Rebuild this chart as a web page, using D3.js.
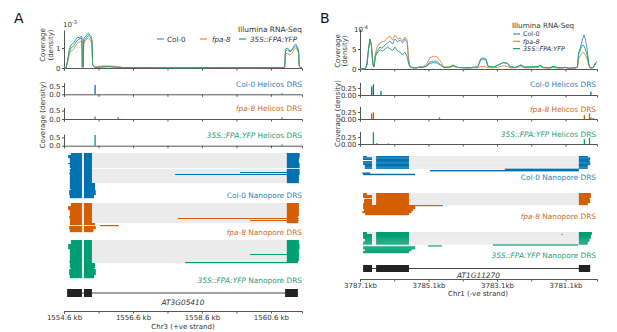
<!DOCTYPE html>
<html>
<head>
<meta charset="utf-8">
<script src="https://cdn.jsdelivr.net/npm/d3@7"></script>
<style>
  body { margin: 0; background: #fff; }
  svg { font-family: "DejaVu Sans", Verdana, sans-serif; }
</style>
</head>
<body>
<svg id="fig" width="617" height="332"></svg>
<script>
// =========================================
// FPA – AT3G05410 (A) / AT1G11270 (B)
// Illumina, Helicos DRS and Nanopore DRS tracks
// =========================================

const genotypes = ["Col-0", "fpa-8", "35S::FPA:YFP"];
const genotypeItalic = [false, true, true];

// =========================
// DATA – PANEL A (Chr3, +ve strand)
// =========================

const A_ticks = [1554.6, 1555.6, 1556.6, 1557.6, 1558.6, 1559.6, 1560.6];
const A_tickLabels = [1554.6, 1556.6, 1558.6, 1560.6];
const A_exons = [[1554.69, 1555.12], [1555.18, 1555.41], [1561.01, 1561.38]];

// Illumina coverage (x 10^-3)
const A_covPos = [1554.60, 1554.66, 1554.70, 1554.75, 1554.80, 1554.85, 1554.90, 1554.95, 1555.00, 1555.05,
  1555.10, 1555.12, 1555.13, 1555.16, 1555.17, 1555.20, 1555.24, 1555.28, 1555.31, 1555.34,
  1555.38, 1555.41, 1555.43, 1555.50, 1555.70, 1555.90, 1556.10, 1556.30, 1557.00, 1558.00,
  1559.00, 1560.00, 1560.95, 1561.00, 1561.02, 1561.08, 1561.15, 1561.22, 1561.28, 1561.32,
  1561.36, 1561.40, 1561.42, 1561.45, 1561.50];
const A_covCol0 = [0, 0, 0.3, 0.8, 1.0, 1.05, 1.15, 1.3, 1.4, 1.45, 1.5, 1.45, 0.05, 0.05, 1.3, 1.4, 1.5, 1.6, 1.65, 1.55,
  1.5, 1.3, 0.15, 0.03, 0.06, 0.08, 0.05, 0.02, 0.02, 0.01, 0.02, 0.02, 0.02, 0.05, 0.85, 0.9, 0.8, 0.9, 1.15, 1.2,
  1.05, 0.9, 0.1, 0.02, 0.02];
const A_covFpa8 = [0, 0, 0.25, 0.65, 0.85, 0.9, 1.0, 1.15, 1.25, 1.3, 1.35, 1.3, 0.05, 0.05, 1.2, 1.3, 1.4, 1.5, 1.5, 1.45,
  1.35, 1.2, 0.15, 0.05, 0.1, 0.1, 0.08, 0.03, 0.02, 0.02, 0.02, 0.01, 0.02, 0.05, 0.7, 0.75, 0.65, 0.75, 0.95, 1.0,
  0.9, 0.75, 0.1, 0.02, 0.02];
const A_covYfp = [0, 0, 0.35, 0.9, 1.15, 1.2, 1.3, 1.45, 1.55, 1.5, 1.6, 1.55, 0.05, 0.05, 1.45, 1.55, 1.6, 1.7, 1.75, 1.65,
  1.6, 1.4, 0.15, 0.03, 0.05, 0.06, 0.04, 0.02, 0.02, 0.01, 0.02, 0.02, 0.02, 0.05, 0.95, 1.0, 0.85, 0.95, 1.05, 1.1,
  1.0, 0.85, 0.1, 0.02, 0.02];

// Helicos DRS 3' ends [kb, density]
const A_helCol0 = [[1555.50, 0.56], [1560.92, 0.06]];
const A_helFpa8 = [[1555.50, 0.15], [1556.17, 0.12], [1560.92, 0.1]];
const A_helYfp = [[1555.50, 0.65], [1560.92, 0.08]];

// Nanopore DRS reads: n = number of reads, blocks = aligned segments (kb)
const A_npCol0 = [
  { n: 2, blocks: [[1554.80, 1555.12], [1555.18, 1555.41], [1561.06, 1561.43]] },
  { n: 3, blocks: [[1554.72, 1555.12], [1555.18, 1555.41], [1561.06, 1561.43]] },
  { n: 5, blocks: [[1554.77, 1555.12], [1555.18, 1555.41], [1561.06, 1561.41]] },
  { n: 1, blocks: [[1554.72, 1555.12], [1555.18, 1555.41], [1561.06, 1561.43]] },
  { n: 4, blocks: [[1554.77, 1555.12], [1555.18, 1555.41], [1561.06, 1561.43]] },
  { n: 1, blocks: [[1554.80, 1555.12], [1555.18, 1555.41]] },
  { n: 3, blocks: [[1554.77, 1555.12], [1555.18, 1555.41], [1561.06, 1561.43]] },
  { n: 1, blocks: [[1554.77, 1555.12], [1555.18, 1555.41], [1559.70, 1561.43]] },
  { n: 1, blocks: [[1554.75, 1555.12], [1555.18, 1555.41], [1561.06, 1561.43]] },
  { n: 1, blocks: [[1554.77, 1555.12], [1555.18, 1555.41], [1557.82, 1561.43]] },
  { n: 8, blocks: [[1554.77, 1555.12], [1555.18, 1555.41], [1561.06, 1561.41]] },
  { n: 6, blocks: [[1554.77, 1555.12], [1555.18, 1555.50]] },
  { n: 1, blocks: [[1554.80, 1555.12], [1555.18, 1555.50]] },
  { n: 5, blocks: [[1554.75, 1555.12], [1555.18, 1555.52]] },
  { n: 3, blocks: [[1554.77, 1555.12], [1555.18, 1555.47]] }
];
const A_npFpa8 = [
  { n: 3, blocks: [[1554.80, 1555.12], [1555.18, 1555.41], [1561.06, 1561.41]] },
  { n: 4, blocks: [[1554.72, 1555.12], [1555.18, 1555.41], [1561.06, 1561.41]] },
  { n: 6, blocks: [[1554.77, 1555.12], [1555.18, 1555.41], [1561.06, 1561.41]] },
  { n: 2, blocks: [[1554.75, 1555.12], [1555.18, 1555.41], [1561.06, 1561.38]] },
  { n: 1, blocks: [[1554.77, 1555.12], [1555.18, 1555.41], [1557.90, 1561.41]] },
  { n: 1, blocks: [[1554.77, 1555.12], [1555.18, 1555.41], [1561.06, 1561.38]] },
  { n: 1, blocks: [[1554.77, 1555.12], [1555.18, 1555.41], [1559.99, 1561.41]] },
  { n: 2, blocks: [[1554.77, 1555.12], [1555.18, 1555.41], [1561.06, 1561.38]] },
  { n: 2, blocks: [[1554.77, 1555.12], [1555.18, 1555.50]] },
  { n: 1, blocks: [[1555.64, 1556.19]] },
  { n: 3, blocks: [[1554.75, 1555.12], [1555.18, 1555.52]] },
  { n: 3, blocks: [[1554.77, 1555.12], [1555.18, 1555.45]] }
];
const A_npYfp = [
  { n: 4, blocks: [[1554.80, 1555.12], [1555.18, 1555.41], [1561.06, 1561.41]] },
  { n: 5, blocks: [[1554.72, 1555.12], [1555.18, 1555.41], [1561.06, 1561.43]] },
  { n: 5, blocks: [[1554.77, 1555.12], [1555.18, 1555.41], [1561.06, 1561.41]] },
  { n: 1, blocks: [[1554.77, 1555.12], [1555.18, 1555.41], [1559.99, 1561.41]] },
  { n: 6, blocks: [[1554.77, 1555.12], [1555.18, 1555.41], [1561.06, 1561.41]] },
  { n: 1, blocks: [[1554.75, 1555.12], [1555.18, 1555.41], [1561.06, 1561.38]] },
  { n: 1, blocks: [[1554.77, 1555.12], [1555.18, 1555.41], [1558.11, 1561.38]] },
  { n: 5, blocks: [[1554.77, 1555.12], [1555.18, 1555.50]] },
  { n: 1, blocks: [[1554.80, 1555.12], [1555.18, 1555.47]] },
  { n: 6, blocks: [[1554.75, 1555.12], [1555.18, 1555.52]] },
  { n: 3, blocks: [[1554.77, 1555.12], [1555.18, 1555.47]] }
];

// =========================
// DATA – PANEL B (Chr1, -ve strand)
// =========================

const B_ticks = [3787.1, 3786.1, 3785.1, 3784.1, 3783.1, 3782.1, 3781.1];
const B_tickLabels = [3787.1, 3785.1, 3783.1, 3781.1];
const B_exons = [[3787.01, 3786.75], [3786.63, 3785.67], [3780.71, 3780.38]];

// Illumina coverage (x 10^-4)
const B_covPos = [3787.10, 3786.95, 3786.90, 3786.85, 3786.81, 3786.77, 3786.72, 3786.69, 3786.65, 3786.60,
  3786.52, 3786.45, 3786.37, 3786.30, 3786.22, 3786.15, 3786.08, 3786.00, 3785.93, 3785.86,
  3785.79, 3785.72, 3785.68, 3785.64, 3785.55, 3785.45, 3785.35, 3785.28, 3785.15, 3785.06,
  3784.95, 3784.85, 3784.76, 3784.65, 3784.50, 3784.38, 3784.25, 3784.05, 3783.89, 3783.66,
  3783.58, 3783.51, 3783.42, 3783.36, 3783.20, 3783.05, 3782.92, 3782.80, 3782.72, 3782.57,
  3782.40, 3782.30, 3782.14, 3781.90, 3781.84, 3781.75, 3781.55, 3781.46, 3781.30, 3781.10,
  3781.00, 3780.82, 3780.75, 3780.72, 3780.66, 3780.60, 3780.56, 3780.52, 3780.47, 3780.42,
  3780.38, 3780.30, 3780.26, 3780.22, 3780.19];
const B_covCol0 = [0, 0.1, 1, 5, 7.5, 6, 1, 0.5, 3.5, 4.5,
  5.5, 5.2, 6, 6.5, 7, 6.2, 7.5, 6.8, 7.2, 6.5,
  7.5, 6.5, 2, 0.6, 0.3, 0.3, 0.5, 0.4, 0.8, 1.8,
  2.0, 1.9, 1.2, 0.4, 0.4, 0.8, 0.4, 0.3, 0.3, 0.5,
  2.2, 2.5, 2.2, 0.6, 0.5, 1.0, 1.6, 1.4, 0.6, 0.4,
  1.0, 0.5, 0.5, 0.6, 0.9, 0.4, 0.3, 0.6, 0.3, 0.4,
  0.2, 0.3, 0.5, 4, 5.5, 7.5, 8.5, 7.5, 5, 1.5,
  0.3, 0.3, 0.8, 1.6, 1.8];
const B_covFpa8 = [0, 0.1, 1, 5, 7.3, 6, 1, 0.5, 4, 5.5,
  6.5, 6.8, 7, 7.8, 8.2, 7.2, 8.5, 7.5, 7.8, 7,
  8, 7.2, 2.5, 0.6, 0.3, 0.3, 0.5, 0.5, 1.2, 2.8,
  3.2, 3.1, 2.0, 0.5, 0.4, 0.7, 0.4, 0.3, 0.3, 0.3,
  0.6, 0.7, 0.6, 0.3, 0.3, 0.5, 0.8, 0.7, 0.3, 0.3,
  0.6, 0.3, 0.3, 0.4, 0.6, 0.3, 0.2, 0.4, 0.2, 0.3,
  0.2, 0.2, 0.4, 2.5, 3.5, 4.2, 4.0, 3.5, 2.5, 1,
  0.3, 0.3, 0.7, 1.4, 1.6];
const B_covYfp = [0, 0.1, 1, 5, 7.5, 6.2, 1, 0.5, 3.2, 4,
  4.8, 4.5, 5, 5.5, 5, 4.6, 5.5, 4.5, 4.2, 3.5,
  4.2, 3, 1.2, 0.5, 0.3, 0.3, 0.5, 0.4, 0.7, 1.4,
  1.6, 1.5, 1.0, 0.4, 0.5, 1.0, 0.4, 0.3, 0.3, 0.6,
  2.5, 2.8, 2.5, 0.7, 0.5, 1.1, 1.6, 1.5, 0.6, 0.4,
  1.0, 0.5, 0.5, 0.6, 1.0, 0.4, 0.3, 0.7, 0.3, 0.4,
  0.2, 0.3, 0.5, 3.5, 5, 6, 5.8, 5, 3.5, 1.2,
  0.3, 0.3, 0.8, 1.5, 1.7];

const B_helCol0 = [[3786.76, 0.3], [3786.71, 0.38], [3786.49, 0.14], [3780.36, 0.12]];
const B_helFpa8 = [[3786.76, 0.2], [3786.71, 0.24], [3784.78, 0.06], [3780.55, 0.14], [3780.40, 0.2], [3780.36, 0.06], [3780.29, 0.04]];
const B_helYfp = [[3786.71, 0.42], [3786.61, 0.03], [3786.27, 0.02], [3780.55, 0.17], [3780.40, 0.22]];

const B_npCol0 = [
  { n: 1, blocks: [[3787.01, 3786.90], [3786.63, 3785.67], [3780.71, 3780.45]] },
  { n: 2, blocks: [[3787.01, 3786.75], [3786.63, 3785.67], [3780.71, 3780.38]] },
  { n: 1, blocks: [[3786.63, 3785.67], [3780.71, 3780.40]] },
  { n: 3, blocks: [[3787.01, 3786.75], [3786.63, 3785.67], [3780.71, 3780.38]] },
  { n: 3, blocks: [[3786.96, 3786.75], [3786.63, 3785.67], [3780.71, 3780.45]] },
  { n: 1, blocks: [[3782.87, 3780.71]] },
  { n: 1, blocks: [[3785.06, 3780.71]] },
  { n: 1, blocks: [] },
  { n: 1, blocks: [[3787.03, 3786.80]] },
  { n: 1, blocks: [[3787.01, 3785.49]] }
];
const B_npFpa8 = [
  { n: 2, blocks: [[3787.01, 3786.90], [3786.63, 3785.67], [3780.71, 3780.36]] },
  { n: 3, blocks: [[3787.01, 3786.75], [3786.63, 3785.67], [3780.71, 3780.36]] },
  { n: 1, blocks: [[3786.63, 3785.67], [3780.71, 3780.40]] },
  { n: 4, blocks: [[3786.98, 3786.75], [3786.63, 3785.67], [3780.71, 3780.38]] },
  { n: 2, blocks: [[3787.01, 3786.75], [3786.63, 3785.67], [3780.71, 3780.45]] },
  { n: 1, blocks: [[3787.01, 3784.68]] },
  { n: 3, blocks: [[3787.01, 3785.49]] },
  { n: 2, blocks: [[3786.98, 3785.55]] },
  { n: 2, blocks: [[3787.03, 3785.60]] },
  { n: 2, blocks: [[3786.95, 3785.67]] }
];
const B_npYfp = [
  { n: 2, blocks: [[3787.01, 3786.90], [3786.63, 3785.67], [3780.71, 3780.33]] },
  { n: 1, blocks: [[3787.01, 3786.75], [3786.63, 3785.67], [3781.22, 3781.18], [3780.71, 3780.33]] },
  { n: 4, blocks: [[3787.01, 3786.75], [3786.63, 3785.67], [3780.71, 3780.36]] },
  { n: 3, blocks: [[3786.96, 3786.75], [3786.63, 3785.67], [3780.71, 3780.40]] },
  { n: 3, blocks: [[3787.01, 3786.75], [3786.63, 3785.67], [3780.71, 3780.45]] },
  { n: 1, blocks: [[3783.22, 3780.73]] },
  { n: 1, blocks: [[3785.11, 3784.71]] },
  { n: 3, blocks: [[3787.01, 3785.49]] },
  { n: 2, blocks: [[3786.96, 3785.60]] },
  { n: 2, blocks: [[3787.01, 3785.67]] }
];


// =========================
// STYLE
// =========================

const colours = ["#0072b2", "#d55e00", "#009e73"];
const lineColours = ["#3c8fc4", "#e3893a", "#1aa07c"];
const textColours = ["#2f7fb4", "#d1691c", "#1f9c7a"];
const INTRON_FILL = "#ebebeb";
const AXIS_COL = "#555";
const TXT = "#333";

const svg = d3.select("#fig");


// =========================
// HELPERS
// =========================

function addText(x, y, parts, opts = {}) {
  const t = svg.append("text")
    .attr("x", x)
    .attr("y", y)
    .attr("font-size", opts.size || 7)
    .attr("fill", opts.color || TXT)
    .attr("text-anchor", opts.anchor || "start");
  if (opts.rotate) t.attr("transform", `rotate(-90, ${x}, ${y})`);
  parts.forEach(p => t.append("tspan").text(p[0]).attr("font-style", p[1] ? "italic" : null));
  return t;
}

function styleAxis(g) {
  g.attr("font-family", null).attr("font-size", 7);
  g.select(".domain").attr("stroke", AXIS_COL);
  g.selectAll(".tick line").attr("stroke", AXIS_COL);
  g.selectAll(".tick text").attr("fill", TXT);
}

function drawXAxis(x, y, ticks, labelled, fmt) {
  const axis = d3.axisBottom(x)
    .tickValues(ticks)
    .tickSize(2.5)
    .tickSizeOuter(2.5)
    .tickPadding(2)
    .tickFormat(d => labelled && labelled.includes(d) ? fmt(d) : "");
  const g = svg.append("g").attr("transform", `translate(0,${y})`).call(axis);
  styleAxis(g);
  return g;
}

function drawYAxis(xPos, y, ticks, fmt) {
  const g = svg.append("g")
    .attr("transform", `translate(${xPos},0)`)
    .call(d3.axisLeft(y).tickValues(ticks).tickSize(2).tickSizeOuter(0).tickPadding(1.5).tickFormat(fmt));
  styleAxis(g);
  return g;
}


// =========================
// ILLUMINA COVERAGE
// =========================

function drawIllumina(x, yBase, yTop, yMax, yTicks, ticks, pos, valueSets) {
  const y = d3.scaleLinear().domain([0, yMax]).range([yBase, yTop]);
  const line = d3.line().x(d => x(d[0])).y(d => y(d[1]));

  drawXAxis(x, yBase, ticks, null, null);
  drawYAxis(x.range()[0], y, yTicks, d3.format("d"));

  valueSets.forEach((vals, i) => {
    svg.append("path")
      .datum(pos.map((p, j) => [p, vals[j]]))
      .attr("d", line)
      .attr("fill", "none")
      .attr("stroke", lineColours[i])
      .attr("stroke-width", 1)
      .attr("stroke-opacity", 0.9);
  });
}

function drawExponent(x, y, exp) {
  const t = svg.append("text").attr("x", x).attr("y", y).attr("font-size", 7).attr("fill", TXT);
  t.append("tspan").text("10");
  t.append("tspan").text(exp).attr("font-size", 5).attr("dy", -3);
}


// =========================
// HELICOS DRS
// =========================

function drawHelicos(x, yBase, yMax, pxPerUnit, ticks, yTicks, fmt, bars, i, labelX, labelY) {
  const y = d3.scaleLinear().domain([0, yMax]).range([yBase, yBase - yMax * pxPerUnit]);

  svg.append("g").selectAll("rect")
    .data(bars)
    .enter()
    .append("rect")
    .attr("x", d => x(d[0]) - 0.6)
    .attr("width", 1.3)
    .attr("y", d => y(d[1]))
    .attr("height", d => yBase - y(d[1]))
    .attr("fill", colours[i]);

  drawXAxis(x, yBase, ticks, null, null);
  drawYAxis(x.range()[0], y, yTicks, fmt);

  addText(labelX, labelY, [[genotypes[i], genotypeItalic[i]], [" Helicos DRS", false]],
    { anchor: "end", color: textColours[i], size: 7.4 });
}


// =========================
// NANOPORE DRS
// =========================

function drawNanopore(x, reads, y0, y1, i, labelX, labelY) {
  const rows = [];
  reads.forEach(r => { for (let k = 0; k < r.n; k++) rows.push(r.blocks); });

  const y = d3.scaleBand().domain(d3.range(rows.length)).range([y0, y1]);
  const h = y.bandwidth();
  const g = svg.append("g");

  rows.forEach((blocks, r) => {
    const bs = blocks
      .map(b => [Math.min(x(b[0]), x(b[1])), Math.max(x(b[0]), x(b[1]))])
      .sort((a, b) => a[0] - b[0]);

    for (let j = 1; j < bs.length; j++) {
      g.append("rect")
        .attr("x", bs[j - 1][1]).attr("width", bs[j][0] - bs[j - 1][1])
        .attr("y", y(r)).attr("height", h + 0.2)
        .attr("fill", INTRON_FILL);
    }
    bs.forEach(b => {
      g.append("rect")
        .attr("x", b[0]).attr("width", Math.max(b[1] - b[0], 0.8))
        .attr("y", y(r)).attr("height", h + 0.2)
        .attr("fill", colours[i]);
    });
  });

  addText(labelX, labelY, [[genotypes[i], genotypeItalic[i]], [" Nanopore DRS", false]],
    { anchor: "end", color: textColours[i], size: 7.4 });
}


// =========================
// GENE MODEL
// =========================

function drawGene(x, yc, hh, exons, name, nameY) {
  const xs = exons.flat().map(x);
  svg.append("line")
    .attr("x1", d3.min(xs)).attr("x2", d3.max(xs))
    .attr("y1", yc).attr("y2", yc)
    .attr("stroke", "#444").attr("stroke-width", 1);

  svg.append("g").selectAll("rect")
    .data(exons)
    .enter()
    .append("rect")
    .attr("x", d => Math.min(x(d[0]), x(d[1])))
    .attr("width", d => Math.abs(x(d[1]) - x(d[0])))
    .attr("y", yc - hh)
    .attr("height", hh * 2)
    .attr("fill", "#222");

  const mid = (x.range()[0] + x.range()[1]) / 2;
  addText(mid, nameY, [[name, true]], { anchor: "middle", size: 7.4 });
}


// =========================
// PANEL A
// =========================

const xA = d3.scaleLinear().domain([1554.6, 1561.5]).range([64, 302]);

addText(14, 23, [["A", false]], { size: 14, color: "#111" });

drawIllumina(xA, 68, 30, 1.9, [0, 1], A_ticks, A_covPos, [A_covCol0, A_covFpa8, A_covYfp]);
drawExponent(63, 27, "-3");
addText(45, 45, [["Coverage", false]], { rotate: true, anchor: "middle" });
addText(52.5, 45, [["(density)", false]], { rotate: true, anchor: "middle" });

addText(302, 32, [["Illumina RNA-Seq", false]], { anchor: "end", size: 7.4 });
[[157, 167], [200, 212], [239, 250]].forEach((p, i) => {
  svg.append("line").attr("x1", p[0]).attr("x2", p[0] + 7).attr("y1", 39).attr("y2", 39)
    .attr("stroke", lineColours[i]).attr("stroke-width", 1.2);
  addText(p[1], 41.5, [[genotypes[i], genotypeItalic[i]]], { size: 7.2 });
});

drawHelicos(xA, 94.3, 0.7, 16.6, A_ticks, [0, 0.5], d3.format(".1f"), A_helCol0, 0, 302, 87);
drawHelicos(xA, 119, 0.7, 16.6, A_ticks, [0, 0.5], d3.format(".1f"), A_helFpa8, 1, 302, 111);
drawHelicos(xA, 145.7, 0.7, 16.6, A_ticks, [0, 0.5], d3.format(".1f"), A_helYfp, 2, 302, 137.5);
addText(44.5, 115, [["Coverage (density)", false]], { rotate: true, anchor: "middle" });

drawNanopore(xA, A_npCol0, 153, 198, 0, 302, 197.5);
drawNanopore(xA, A_npFpa8, 203, 232, 1, 302, 235);
drawNanopore(xA, A_npYfp, 240, 278, 2, 302, 283);

drawGene(xA, 293, 4, A_exons, "AT3G05410", 304.5);
drawXAxis(xA, 311, A_ticks, A_tickLabels, d => d.toFixed(1) + " kb");
addText(183, 329, [["Chr3 (+ve strand)", false]], { anchor: "middle" });


// =========================
// PANEL B
// =========================

const xB = d3.scaleLinear().domain([3787.1, 3780.18]).range([360, 597]);

addText(320, 23, [["B", false]], { size: 14, color: "#111" });

drawIllumina(xB, 69, 29, 10, [0, 5], B_ticks, B_covPos, [B_covCol0, B_covFpa8, B_covYfp]);
drawExponent(354, 32, "-4");
addText(340, 51, [["Coverage", false]], { rotate: true, anchor: "middle" });
addText(347, 51, [["(density)", false]], { rotate: true, anchor: "middle" });

addText(512, 28, [["Illumina RNA-Seq", false]], { size: 7.2 });
[34, 41.3, 48.6].forEach((yy, i) => {
  svg.append("line").attr("x1", 513).attr("x2", 520).attr("y1", yy).attr("y2", yy)
    .attr("stroke", lineColours[i]).attr("stroke-width", 1.2);
  addText(523, yy + 2.3, [[genotypes[i], genotypeItalic[i]]], { size: 6.4 });
});

drawHelicos(xB, 95, 0.45, 28, B_ticks, [0, 0.25], d3.format(".2f"), B_helCol0, 0, 596, 86.5);
drawHelicos(xB, 119, 0.45, 28, B_ticks, [0, 0.25], d3.format(".2f"), B_helFpa8, 1, 596, 111.5);
drawHelicos(xB, 144, 0.45, 28, B_ticks, [0, 0.25], d3.format(".2f"), B_helYfp, 2, 596, 136.5);
addText(339.5, 113.5, [["Coverage (density)", false]], { rotate: true, anchor: "middle" });

drawNanopore(xB, B_npCol0, 156, 175, 0, 596, 179.5);
drawNanopore(xB, B_npFpa8, 193, 215, 1, 596, 218.5);
drawNanopore(xB, B_npYfp, 232, 253, 2, 596, 257.5);

drawGene(xB, 268.5, 3.5, B_exons, "AT1G11270", 277.5);
drawXAxis(xB, 279, B_ticks, B_tickLabels, d => d.toFixed(1) + "kb");
addText(478, 296, [["Chr1 (-ve strand)", false]], { anchor: "middle" });
</script>
</body>
</html>
